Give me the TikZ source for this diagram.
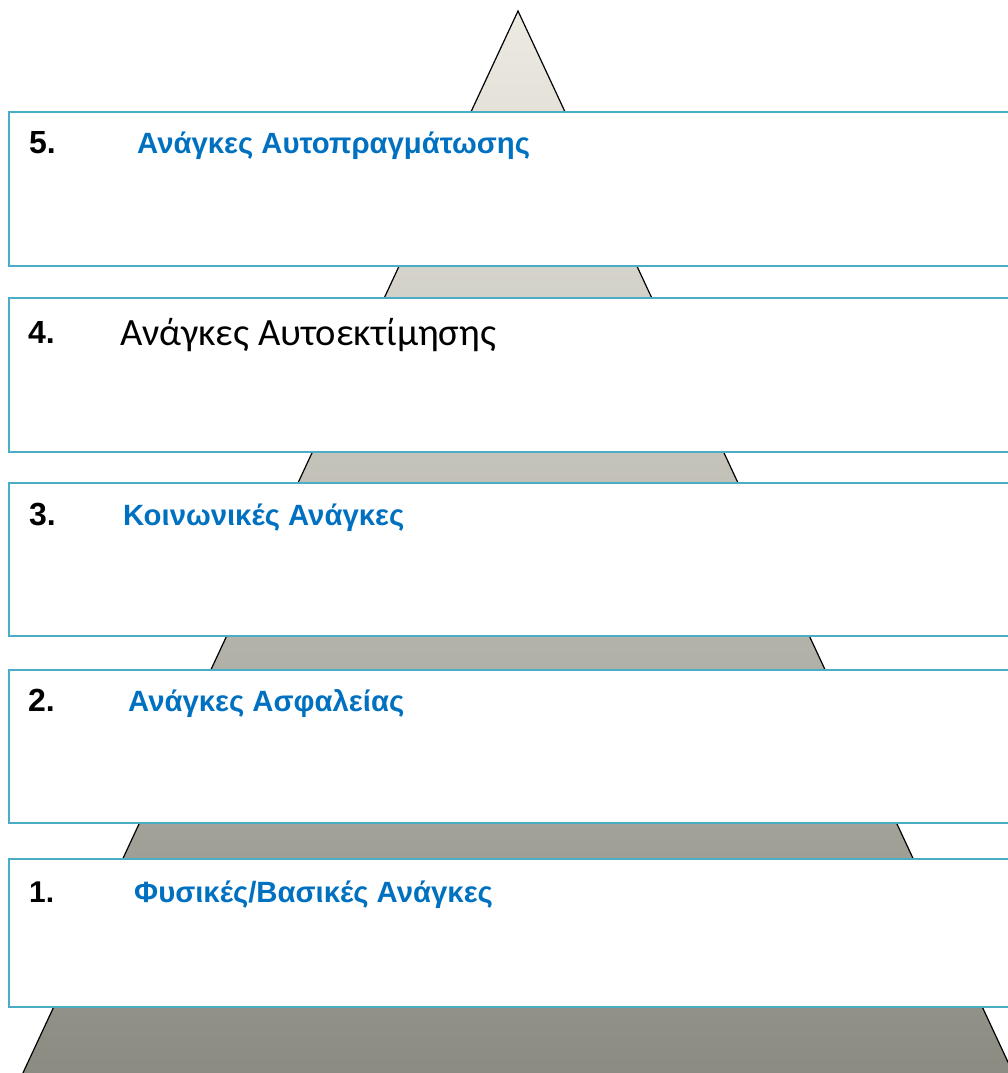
\documentclass[tikz,border=0pt]{standalone}
\usepackage{fontspec}
\setmainfont{Liberation Sans}
\newfontfamily\calib{Carlito}
\definecolor{boxline}{HTML}{4BACC6}
\definecolor{needblue}{HTML}{0070C0}
\definecolor{pyrtop}{HTML}{EDEBE1}
\definecolor{pyrbot}{HTML}{8C8B82}
\begin{document}
\begin{tikzpicture}[x=1pt,y=-1pt,
  levelbox/.style={draw=boxline,line width=2.5pt,fill=white},
  numlabel/.style={anchor=base west,inner sep=0pt,font=\fontsize{32}{36}\selectfont\bfseries,text=black},
  bluelabel/.style={anchor=base west,inner sep=0pt,font=\fontsize{29.3}{34}\selectfont\bfseries,text=needblue},
  plainlabel/.style={anchor=base west,inner sep=0pt,font=\calib\fontsize{38.6}{44}\selectfont,text=black}]
\useasboundingbox (0,0) rectangle (1008,1073);
\clip (0,0) rectangle (1008,1073);
% pyramid
\coordinate (apex) at (518,11);
\coordinate (bl) at (22,1075);
\coordinate (br) at (1014,1075);
\shade[top color=pyrtop,bottom color=pyrbot,draw=black,line width=1.2pt] (apex) -- (br) -- (bl) -- cycle;
% level boxes
\draw[levelbox] (9,112) rectangle (1020,266);
\draw[levelbox] (9,298) rectangle (1020,452);
\draw[levelbox] (9,483) rectangle (1020,636);
\draw[levelbox] (9,670) rectangle (1020,823);
\draw[levelbox] (9,859) rectangle (1020,1007);
% labels
\node[numlabel] (n5) at (29,153) {5.};
\node[bluelabel] (t5) at (137,153) {Ανάγκες Αυτοπραγμάτωσης};
\node[numlabel] (n4) at (28,343) {4.};
\node[plainlabel] (t4) at (120,345) {Ανάγκες Αυτοεκτίμησης};
\node[numlabel] (n3) at (29,525) {3.};
\node[bluelabel] (t3) at (123,525) {Κοινωνικές Ανάγκες};
\node[numlabel] (n2) at (28,711) {2.};
\node[bluelabel] (t2) at (128,711) {Ανάγκες Ασφαλείας};
\node[numlabel,font=\fontsize{30}{34}\selectfont\bfseries] (n1) at (29,902) {1.};
\node[bluelabel] (t1) at (134,902) {Φυσικές/Βασικές Ανάγκες};
\end{tikzpicture}
\end{document}
